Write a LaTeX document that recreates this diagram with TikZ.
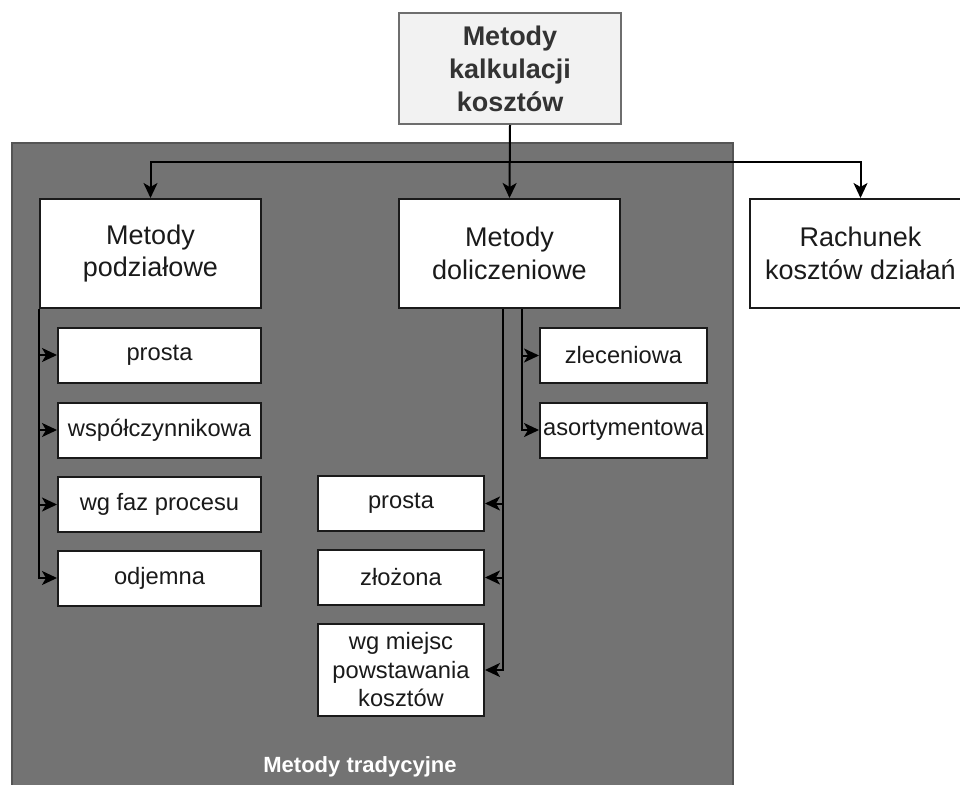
\documentclass[tikz,border=0pt]{standalone}
\usepackage{fontspec}
\setmainfont{Liberation Sans}
\usetikzlibrary{arrows.meta}

\definecolor{panelgray}{HTML}{737373}
\definecolor{paneledge}{HTML}{555555}
\definecolor{headfill}{HTML}{F2F2F2}
\definecolor{headedge}{HTML}{6E6E6E}
\definecolor{ink}{HTML}{1A1A1A}

\tikzset{
  mainbox/.style={draw=ink, fill=white, line width=2pt, inner sep=0pt,
    minimum width=221pt, minimum height=109pt, align=center, text=ink,
    font=\fontsize{27}{32.5}\selectfont},
  headbox/.style={mainbox, draw=headedge, fill=headfill, text=black!80,
    minimum width=222pt, minimum height=111pt,
    font=\fontsize{27}{33}\selectfont\bfseries},
  subbox/.style={draw=ink, fill=white, line width=2pt, inner sep=0pt,
    minimum height=55pt, align=center, text=ink,
    font=\fontsize{23.7}{28.5}\selectfont},
  arr/.style={draw=black, line width=2pt,
    -{Stealth[length=15pt, width=14pt, inset=4pt]}},
}

\begin{document}
\begin{tikzpicture}[x=1pt, y=-1pt]
  \useasboundingbox (0,0) rectangle (960,784);

  % group panel for the traditional methods
  \path[fill=panelgray, draw=paneledge, line width=2pt]
    (11.5,142.5) rectangle (732.5,800);
  \node[font=\fontsize{22}{26}\selectfont\bfseries, text=white]
    (trad) at (360,767) {Metody tradycyjne};

  % top level
  \node[headbox] (top) at (510,68.5) {Metody\\kalkulacji\\kosztów};

  % second level
  \node[mainbox] (podz)   at (150.5,253.5) {Metody\\podziałowe};
  \node[mainbox] (dolicz) at (509.5,253.5) {Metody\\doliczeniowe};
  \node[mainbox] (rach)   at (860.5,253.5) {Rachunek\\kosztów działań};

  % divisional methods
  \node[subbox, minimum width=203pt] (pprosta) at (159.5,355) {prosta};
  \node[subbox, minimum width=203pt] (pwsp)    at (159.5,430) {współczynnikowa};
  \node[subbox, minimum width=203pt] (pfaz)    at (159.5,504.5) {wg faz procesu};
  \node[subbox, minimum width=203pt] (podj)    at (159.5,578) {odjemna};

  % surcharge methods
  \node[subbox, minimum width=167pt] (dzlec) at (623.5,355.5) {zleceniowa};
  \node[subbox, minimum width=167pt] (dasor) at (623.5,430) {asortymentowa};
  \node[subbox, minimum width=166pt] (dprosta) at (401,503.5) {prosta};
  \node[subbox, minimum width=166pt] (dzloz)   at (401,577.5) {złożona};
  \node[subbox, minimum width=166pt, minimum height=92pt] (dmiejsc)
    at (401,670) {wg miejsc\\powstawania\\kosztów};

  % connectors from the top box
  \coordinate (hub) at (top.south |- 0,162);
  \draw[arr] (top.south) -- (hub) -| (podz.north);
  \draw[arr] (hub) -| (rach.north);
  \draw[arr] (top.south) -- (dolicz.north);

  % divisional branch
  \foreach \t in {pprosta,pwsp,pfaz,podj}
    \draw[arr] (podz.south west) |- (\t.west);

  % surcharge branches
  \coordinate (dr) at ([xshift=12pt]dolicz.south);
  \coordinate (dl) at ([xshift=-6.5pt]dolicz.south);
  \foreach \t in {dzlec,dasor}
    \draw[arr] (dr) |- (\t.west);
  \foreach \t in {dprosta,dzloz,dmiejsc}
    \draw[arr] (dl) |- (\t.east);
\end{tikzpicture}
\end{document}
